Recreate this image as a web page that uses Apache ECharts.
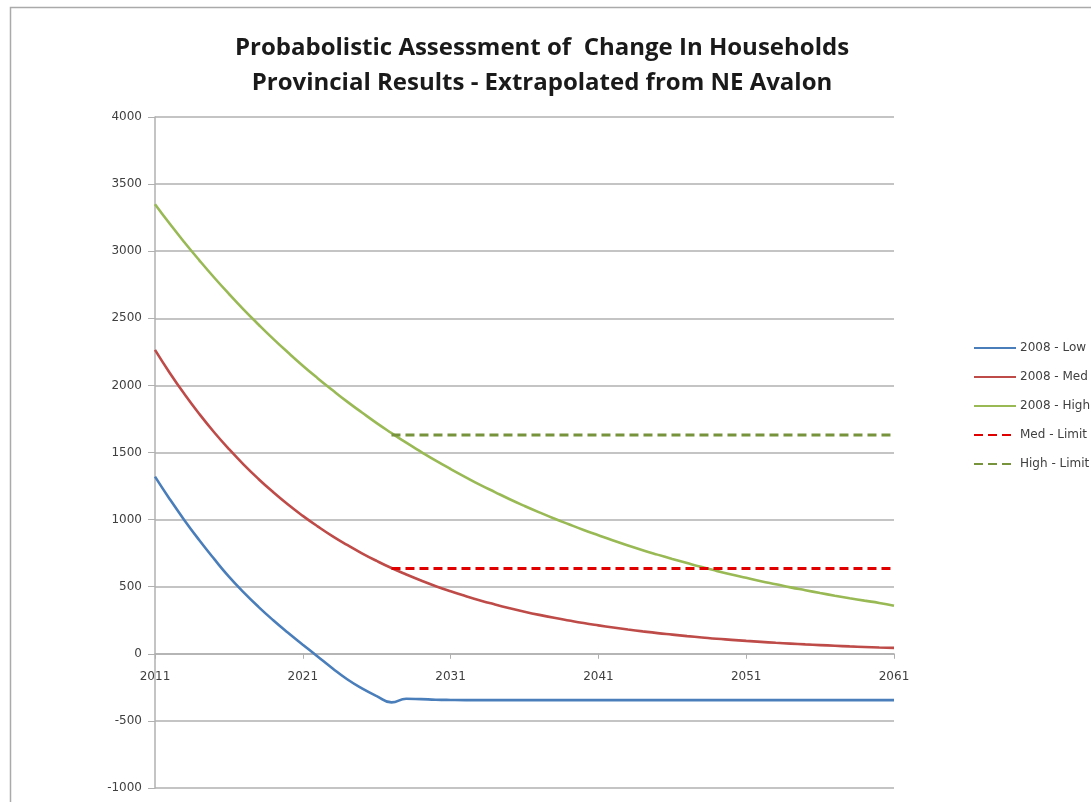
<!DOCTYPE html>
<html>
<head>
<meta charset="utf-8">
<script src="https://cdn.jsdelivr.net/npm/echarts@6/dist/echarts.min.js"></script>
<style>
html,body{margin:0;padding:0;background:#fff;}
#chart{width:1091px;height:802px;}
</style>
</head>
<body>
<div id="chart"></div>
<script>
// ---- Data ----
const years = ['2011','2012','2013','2014','2015','2016','2017','2018','2019','2020',
  '2021','2022','2023','2024','2025','2026','2027','2028','2029','2030',
  '2031','2032','2033','2034','2035','2036','2037','2038','2039','2040',
  '2041','2042','2043','2044','2045','2046','2047','2048','2049','2050',
  '2051','2052','2053','2054','2055','2056','2057','2058','2059','2060','2061'];

const low2008 = [1320,1152,994,846,707,575,458,350,250,157,
  68,-20,-108,-190,-258,-315,-362,-335,-338,-342,
  -344,-345,-345,-345,-345,-345,-345,-345,-345,-345,
  -345,-345,-345,-345,-345,-345,-345,-345,-345,-345,
  -345,-345,-345,-345,-345,-345,-345,-345,-345,-345,-345];

const med2008 = [2265,2093,1934,1787,1651,1526,1410,1303,1204,1112,
  1028,950,877,811,749,692,639,591,546,504,
  466,431,398,368,340,314,290,268,248,229,
  212,196,181,167,154,143,132,122,112,104,
  96,89,82,76,70,65,60,55,51,47,44];

const high2008 = [3350,3204,3065,2932,2804,2682,2565,2454,2347,2245,
  2147,2054,1965,1879,1798,1719,1645,1573,1505,1439,
  1377,1317,1259,1205,1152,1102,1054,1008,965,923,
  883,844,807,772,739,707,676,646,618,591,
  566,541,518,495,474,453,433,414,396,379,358];

const medLimit = [['2027', 635], ['2061', 635]];
const highLimit = [['2027', 1630], ['2061', 1630]];

const seriesNames = ['2008 - Low', '2008 - Med', '2008 - High', 'Med - Limit', 'High - Limit'];
const titleLines = ['Probabolistic Assessment of  Change In Households', 'Provincial Results - Extrapolated from NE Avalon'];
const yMin = -1000, yMax = 4000, yStep = 500;

// ---- Chart ----
const chart = echarts.init(document.getElementById('chart'), null, {renderer: 'canvas'});
const axisGray = '#b0b0b0';
const textGray = '#404040';
const gridTop = 117, gridBottom = 14, chartH = 802;
const plotH = chartH - gridTop - gridBottom;
// distance of the zero line above the bottom of the plot
const zeroOffset = plotH * (0 - yMin) / (yMax - yMin);

function lineSeries(name, data, color, dashed, smooth) {
  return {
    name: name,
    type: 'line',
    data: data,
    showSymbol: false,
    symbol: 'none',
    smooth: smooth,
    lineStyle: {color: color, width: dashed ? 3 : 2.6, type: dashed ? [9, 5] : 'solid'},
    itemStyle: {color: color},
    emphasis: {disabled: true},
    z: dashed ? 3 : 2
  };
}

chart.setOption({
  animation: false,
  backgroundColor: '#ffffff',
  graphic: [{
    type: 'rect',
    shape: {x: 10.5, y: 7.5, width: 1200, height: 900},
    style: {fill: 'none', stroke: '#aaaaaa', lineWidth: 1.5},
    silent: true,
    z: -1
  }],
  title: {
    text: titleLines.join('\n'),
    left: 537,
    top: 26,
    textAlign: 'center',
    textStyle: {
      fontFamily: 'Open Sans',
      fontWeight: 'bold',
      fontSize: 24,
      lineHeight: 35,
      color: '#1a1a1a'
    }
  },
  legend: {
    orient: 'vertical',
    left: 973,
    top: 342,
    padding: 0,
    itemWidth: 42,
    itemHeight: 3,
    itemGap: 17,
    data: seriesNames,
    itemStyle: {opacity: 0},
    textStyle: {fontFamily: 'DejaVu Sans', fontSize: 12, color: textGray, padding: [0, 0, 0, -1]}
  },
  grid: {left: 155, right: 197, top: gridTop, bottom: gridBottom, containLabel: false},
  xAxis: {
    type: 'category',
    data: years,
    boundaryGap: false,
    offset: -zeroOffset,
    axisLine: {onZero: false, lineStyle: {color: axisGray, width: 1.5}},
    axisTick: {show: true, interval: 9, length: 5, lineStyle: {color: axisGray}},
    axisLabel: {interval: 9, margin: 17, fontFamily: 'DejaVu Sans', fontSize: 12, color: textGray},
    splitLine: {show: false}
  },
  yAxis: {
    type: 'value',
    min: yMin,
    max: yMax,
    interval: yStep,
    axisLine: {show: true, lineStyle: {color: axisGray, width: 1.5}},
    axisTick: {show: true, length: 7, lineStyle: {color: axisGray}},
    axisLabel: {margin: 13, fontFamily: 'DejaVu Sans', fontSize: 12, color: textGray, formatter: function (v) { return String(v); }},
    splitLine: {show: true, lineStyle: {color: axisGray, width: 1.5}}
  },
  series: [
    lineSeries(seriesNames[0], low2008, '#4a7ebb', false, true),
    lineSeries(seriesNames[1], med2008, '#be4b48', false, true),
    lineSeries(seriesNames[2], high2008, '#98b954', false, true),
    lineSeries(seriesNames[3], medLimit, '#e00000', true, false),
    lineSeries(seriesNames[4], highLimit, '#77933c', true, false)
  ]
});
</script>
</body>
</html>
